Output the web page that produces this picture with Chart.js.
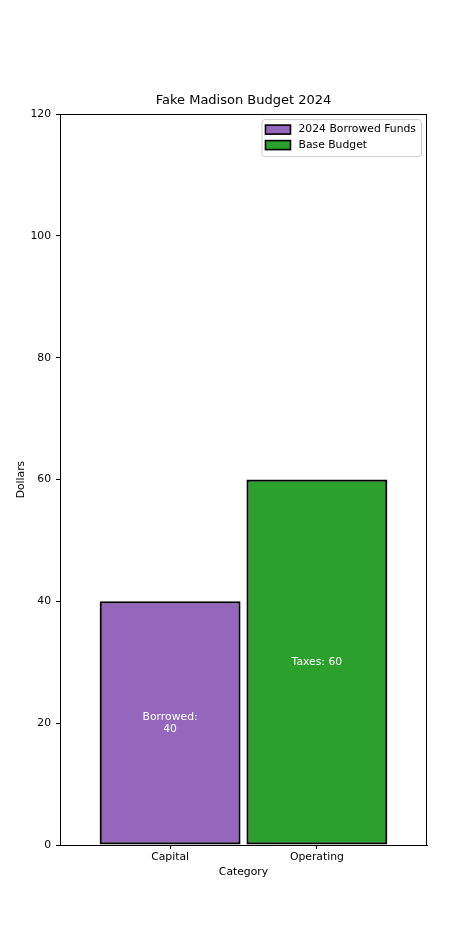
<!DOCTYPE html>
<html>
<head>
<meta charset="utf-8">
<script src="https://cdn.jsdelivr.net/npm/chart.js@4.4.1/dist/chart.umd.min.js"></script>
<style>
  html, body { margin: 0; padding: 0; background: #fff; }
  #chart { display: block; }
</style>
</head>
<body>
<canvas id="chart" width="474" height="948" style="width:474px;height:948px"></canvas>
<script>
// data
const categories = ['Capital', 'Operating'];
const seriesLabels = ['2024 Borrowed Funds', 'Base Budget'];
const values = [40, 60];
const barTexts = ['Borrowed:\n40', 'Taxes: 60'];
const colors = ['#9467bd', '#2ca02c'];
const yTicks = [0, 20, 40, 60, 80, 100, 120];

const FONT = "'DejaVu Sans', sans-serif";
const FS = 10.8;
Chart.defaults.font.family = FONT;
Chart.defaults.color = '#000';

const datasets = seriesLabels.map((label, i) => ({
  label: label,
  data: [{x: i, y: values[i]}],
  backgroundColor: colors[i],
  borderColor: '#000',
  borderWidth: 2.2,
  borderSkipped: false,
  grouped: false,
  barPercentage: 0.96,
  categoryPercentage: 1
}));

// text inside bars + frame + legend box
const extras = {
  id: 'extras',
  afterDatasetsDraw(chart) {
    const ctx = chart.ctx;
    ctx.save();
    ctx.fillStyle = '#fff';
    ctx.font = FS + 'px ' + FONT;
    ctx.textAlign = 'center';
    ctx.textBaseline = 'middle';
    chart.data.datasets.forEach((ds, i) => {
      const bar = chart.getDatasetMeta(i).data[0];
      const lines = barTexts[i].split('\n');
      const mid = (bar.y + bar.base) / 2;
      const lh = 12;
      lines.forEach((t, k) => {
        ctx.fillText(t, bar.x, mid + (k - (lines.length - 1) / 2) * lh);
      });
    });
    ctx.restore();
  },
  afterDraw(chart) {
    const ctx = chart.ctx;
    const a = chart.chartArea;
    ctx.save();
    ctx.strokeStyle = '#000';
    ctx.lineWidth = 1;
    ctx.strokeRect(Math.round(a.left) + 0.5, Math.round(a.top) + 0.5,
      Math.round(a.right - a.left) - 1, Math.round(a.bottom - a.top));

    // legend
    ctx.font = FS + 'px ' + FONT;
    let tw = 0;
    seriesLabels.forEach(l => { tw = Math.max(tw, ctx.measureText(l).width); });
    const w = 4 + 25 + 8 + tw + 5;
    const h = 37;
    const x0 = a.right - 6 - w;
    const y0 = a.top + 5;
    ctx.beginPath();
    ctx.roundRect(x0 + 0.5, y0 + 0.5, w, h, 3);
    ctx.fillStyle = 'rgba(255,255,255,0.8)';
    ctx.fill();
    ctx.strokeStyle = '#cccccc';
    ctx.stroke();
    seriesLabels.forEach((l, i) => {
      const cy = y0 + 10.5 + i * 15.5;
      ctx.fillStyle = colors[i];
      ctx.fillRect(x0 + 4, cy - 4.5, 25, 9);
      ctx.strokeStyle = '#000';
      ctx.lineWidth = 1.6;
      ctx.strokeRect(x0 + 4, cy - 4.5, 25, 9);
      ctx.fillStyle = '#000';
      ctx.textAlign = 'left';
      ctx.textBaseline = 'middle';
      ctx.fillText(l, x0 + 37, cy);
    });
    ctx.restore();
  }
};

new Chart(document.getElementById('chart'), {
  type: 'bar',
  data: { datasets: datasets },
  plugins: [extras],
  options: {
    responsive: false,
    animation: false,
    layout: { padding: { top: 93, right: 47, bottom: 65.5, left: 0 } },
    plugins: {
      legend: { display: false },
      tooltip: { enabled: false },
      title: {
        display: true,
        fullSize: false,
        text: 'Fake Madison Budget 2024',
        color: '#000',
        font: { size: 13, weight: 'normal' },
        padding: { top: 0, bottom: 5.5 }
      }
    },
    scales: {
      x: {
        type: 'linear',
        offset: false,
        min: -0.75,
        max: 1.75,
        afterBuildTicks: (scale) => { scale.ticks = categories.map((c, i) => ({value: i})); },
        afterFit: (scale) => { scale.height = 37.5; },
        ticks: {
          callback: (v) => categories[v],
          font: { size: FS },
          color: '#000',
          padding: 2,
          maxRotation: 0
        },
        grid: { display: true, offset: false, drawOnChartArea: false, drawTicks: true, tickLength: 4, color: '#000' },
        border: { display: true, color: '#000', width: 1 },
        title: { display: true, text: 'Category', font: { size: FS }, color: '#000', padding: { top: 1, bottom: 4 } }
      },
      y: {
        min: 0,
        max: 120,
        afterBuildTicks: (scale) => { scale.ticks = yTicks.map(v => ({value: v})); },
        afterFit: (scale) => { scale.width = 60; },
        ticks: { font: { size: FS }, color: '#000', padding: 5 },
        grid: { display: true, drawOnChartArea: false, drawTicks: true, tickLength: 4, color: '#000' },
        border: { display: true, color: '#000', width: 1 },
        title: { display: true, text: 'Dollars', font: { size: FS }, color: '#000', padding: { top: 15, bottom: 4 } }
      }
    }
  }
});
</script>
</body>
</html>
